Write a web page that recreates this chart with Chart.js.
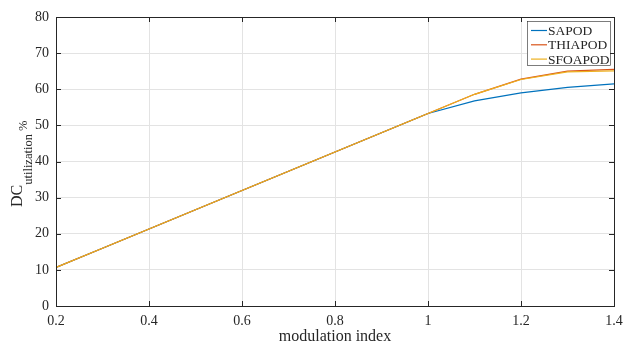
<!DOCTYPE html>
<html>
<head>
<meta charset="utf-8">
<script src="https://cdn.jsdelivr.net/npm/chart.js@4"></script>
<style>
  html, body { margin: 0; padding: 0; background: #fff; }
  #wrap { width: 625px; height: 345px; }
</style>
</head>
<body>
<div id="wrap"><canvas id="dcChart" width="625" height="345"></canvas></div>
<script>
// modulation index values
const modIndex = [0.2, 0.3, 0.4, 0.5, 0.6, 0.7, 0.8, 0.9, 1.0, 1.1, 1.2, 1.3, 1.4];

// DC utilization (%) per method
const sapod   = [10.66, 15.99, 21.32, 26.65, 31.98, 37.31, 42.64, 47.97, 53.3, 56.8, 59.0, 60.5, 61.5];
const thiapod = [10.66, 15.99, 21.32, 26.65, 31.98, 37.31, 42.64, 47.97, 53.3, 58.6, 62.8, 65.0, 65.5];
const sfoapod = [10.66, 15.99, 21.32, 26.65, 31.98, 37.31, 42.64, 47.97, 53.3, 58.6, 62.7, 64.8, 65.1];

const seriesNames = ['SAPOD', 'THIAPOD', 'SFOAPOD'];
const seriesColors = ['#0072BD', '#D95319', '#EDB120'];

const xTitle = 'modulation index';
const serif = '"Liberation Serif", "Times New Roman", serif';
const axisColor = '#262626';

function toPoints(ys) {
    return modIndex.map((x, i) => ({ x: x, y: ys[i] }));
}

// box, inward ticks, axis titles and legend, drawn MATLAB-style
const matlabFrame = {
    id: 'matlabFrame',
    afterDraw(chart) {
        const ctx = chart.ctx;
        const area = chart.chartArea;
        const xs = chart.scales.x;
        const ys = chart.scales.y;
        const tickLen = 5;

        ctx.save();
        ctx.strokeStyle = axisColor;
        ctx.lineWidth = 1;
        ctx.strokeRect(Math.round(area.left) + 0.5, Math.round(area.top) + 0.5,
            Math.round(area.right - area.left), Math.round(area.bottom - area.top));

        ctx.beginPath();
        xs.ticks.forEach(t => {
            const px = Math.round(xs.getPixelForValue(t.value)) + 0.5;
            ctx.moveTo(px, area.bottom); ctx.lineTo(px, area.bottom - tickLen);
            ctx.moveTo(px, area.top); ctx.lineTo(px, area.top + tickLen);
        });
        ys.ticks.forEach(t => {
            const py = Math.round(ys.getPixelForValue(t.value)) + 0.5;
            ctx.moveTo(area.left, py); ctx.lineTo(area.left + tickLen, py);
            ctx.moveTo(area.right, py); ctx.lineTo(area.right - tickLen, py);
        });
        ctx.stroke();

        // x title
        ctx.fillStyle = axisColor;
        ctx.font = '16px ' + serif;
        ctx.textAlign = 'center';
        ctx.textBaseline = 'alphabetic';
        ctx.fillText(xTitle, (area.left + area.right) / 2, 341);

        // y title: DC_{utilization} %
        ctx.translate(22, 207);
        ctx.rotate(-Math.PI / 2);
        ctx.textAlign = 'left';
        ctx.font = '16px ' + serif;
        ctx.fillText('DC', 0, 0);
        const wDC = ctx.measureText('DC').width;
        ctx.font = '12.5px ' + serif;
        ctx.fillText('utilization', wDC, 10);
        const wSub = ctx.measureText('utilization').width;
        ctx.fillText('%', wDC + wSub + 3, 5);
        ctx.restore();

        // legend
        ctx.save();
        const lx = 527, ly = 21, lw = 83, lh = 44;
        ctx.fillStyle = '#fff';
        ctx.fillRect(lx, ly, lw, lh);
        ctx.strokeStyle = '#262626';
        ctx.lineWidth = 0.6;
        ctx.strokeRect(lx + 0.5, ly + 0.5, lw, lh);
        ctx.font = '13.5px ' + serif;
        ctx.textBaseline = 'middle';
        ctx.textAlign = 'left';
        chart.data.datasets.forEach((ds, i) => {
            const cy = ly + 9.5 + i * 14.3;
            ctx.strokeStyle = ds.borderColor;
            ctx.lineWidth = 1.2;
            ctx.beginPath();
            ctx.moveTo(lx + 4, cy); ctx.lineTo(lx + 20, cy);
            ctx.stroke();
            ctx.fillStyle = axisColor;
            ctx.fillText(ds.label, lx + 21, cy + 1);
        });
        ctx.restore();
    }
};

const ctx = document.getElementById('dcChart').getContext('2d');
new Chart(ctx, {
    type: 'line',
    data: {
        datasets: [sapod, thiapod, sfoapod].map((ys, i) => ({
            label: seriesNames[i],
            data: toPoints(ys),
            borderColor: seriesColors[i],
            backgroundColor: seriesColors[i],
            borderWidth: 1.2,
            pointRadius: 0,
            tension: 0,
            fill: false,
            order: 3 - i   // later series drawn on top, like MATLAB
        }))
    },
    options: {
        responsive: false,
        animation: false,
        devicePixelRatio: 1,
        layout: { padding: { top: 17, right: 11, left: 0, bottom: 0 } },
        plugins: {
            legend: { display: false },
            tooltip: { enabled: false }
        },
        scales: {
            x: {
                type: 'linear',
                min: 0.2,
                max: 1.4,
                afterFit: s => { s.height = 39; s.paddingLeft = 0; s.paddingRight = 0; },
                border: { display: false },
                grid: { color: '#e3e3e3', lineWidth: 1, drawTicks: false },
                ticks: {
                    stepSize: 0.2,
                    padding: 7,
                    color: axisColor,
                    font: { family: serif, size: 14 },
                    maxRotation: 0,
                    callback: v => String(+v.toFixed(1))
                }
            },
            y: {
                min: 0,
                max: 80,
                afterFit: s => { s.width = 56; s.paddingTop = 0; s.paddingBottom = 0; },
                border: { display: false },
                grid: { color: '#e3e3e3', lineWidth: 1, drawTicks: false },
                ticks: {
                    stepSize: 10,
                    padding: 7,
                    color: axisColor,
                    font: { family: serif, size: 14 }
                }
            }
        }
    },
    plugins: [matlabFrame]
});
</script>
</body>
</html>
